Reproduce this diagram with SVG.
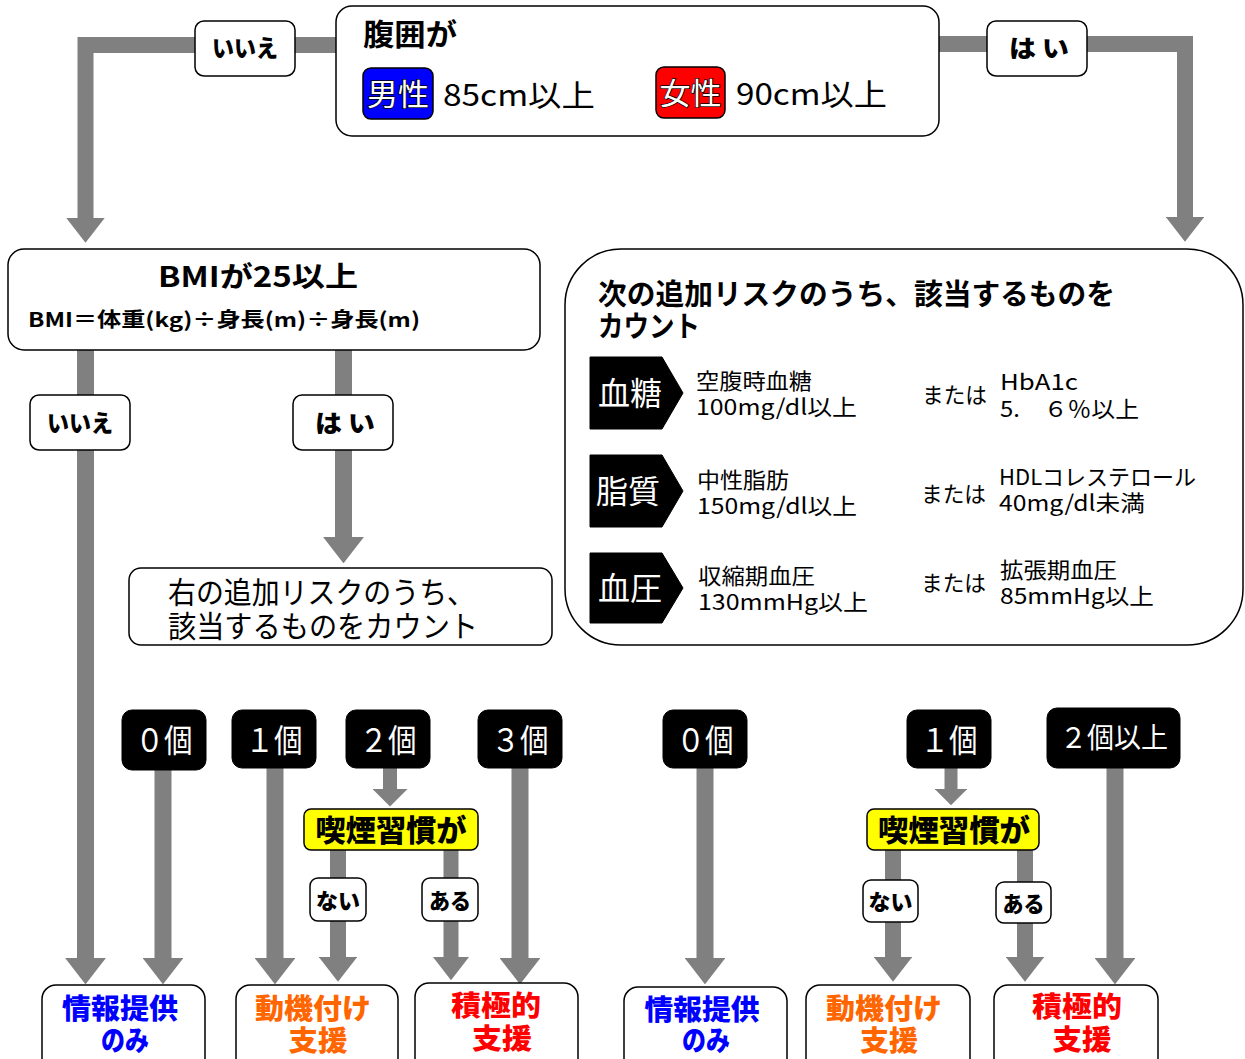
<svg xmlns="http://www.w3.org/2000/svg" width="1245" height="1059" viewBox="0 0 1245 1059">
<style>
text{font-family:"Noto Sans CJK JP","Noto Sans",sans-serif;fill:#000}
.box{fill:#fff;stroke:#000;stroke-width:1.5}
.blk{fill:#000;stroke:#000;stroke-width:1}
.yel{fill:#FFFF00;stroke:#000;stroke-width:1.5}
.con{fill:none;stroke:#808080;stroke-linejoin:miter}
.b{font-weight:bold}
.h{font-weight:900}
.w{fill:#fff}
.ol{fill:#fff;stroke:#000;stroke-width:1.5;paint-order:stroke}
.m{text-anchor:middle}
.blue{fill:#0000FF}
.org{fill:#FF6600}
.red{fill:#FF0000}
</style>
<defs>
<marker id="ah" viewBox="0 0 10 10" refX="0" refY="5" markerUnits="strokeWidth" markerWidth="1.55" markerHeight="2.4" orient="auto" preserveAspectRatio="none">
<path d="M0,0 L10,5 L0,10 Z" fill="#808080"/>
</marker>
<marker id="ahs" viewBox="0 0 10 10" refX="0" refY="5" markerUnits="strokeWidth" markerWidth="1.25" markerHeight="2.5" orient="auto" preserveAspectRatio="none">
<path d="M0,0 L10,5 L0,10 Z" fill="#808080"/>
</marker>
</defs>
<rect width="1245" height="1059" fill="#fff"/>

<g id="connectors">
<path class="con" stroke-width="16" d="M336,45 H85.5 V218" marker-end="url(#ah)"/>
<path class="con" stroke-width="16" d="M939,44 H1185 V217" marker-end="url(#ah)"/>
<path class="con" stroke-width="17" d="M85.5,350 V958" marker-end="url(#ah)"/>
<path class="con" stroke-width="17" d="M343.5,350 V537" marker-end="url(#ah)"/>
<path class="con" stroke-width="17" d="M163,768 V958" marker-end="url(#ah)"/>
<path class="con" stroke-width="17" d="M275,768 V958" marker-end="url(#ah)"/>
<path class="con" stroke-width="14" d="M390,768 V789" marker-end="url(#ahs)"/>
<path class="con" stroke-width="16" d="M338,850 V957" marker-end="url(#ah)"/>
<path class="con" stroke-width="15" d="M451,850 V957" marker-end="url(#ah)"/>
<path class="con" stroke-width="17" d="M520,768 V958" marker-end="url(#ah)"/>
<path class="con" stroke-width="17" d="M705,768 V958" marker-end="url(#ah)"/>
<path class="con" stroke-width="13" d="M951,768 V789" marker-end="url(#ahs)"/>
<path class="con" stroke-width="16" d="M893,850 V957" marker-end="url(#ah)"/>
<path class="con" stroke-width="16" d="M1025,850 V957" marker-end="url(#ah)"/>
<path class="con" stroke-width="17" d="M1115,768 V958" marker-end="url(#ah)"/>
</g>

<g id="waist">
<rect class="box" x="336" y="6" width="603" height="130" rx="16"/>
<text class="b" x="363" y="45" font-size="30" textLength="94" lengthAdjust="spacingAndGlyphs">腹囲が</text>
<rect x="363" y="68" width="70" height="51" rx="8" fill="#0000FF" stroke="#000" stroke-width="1.5"/>
<text class="ol m" x="398" y="105" font-size="30" textLength="62" lengthAdjust="spacingAndGlyphs">男性</text>
<text x="443" y="106" font-size="30" textLength="152" lengthAdjust="spacingAndGlyphs">85cm以上</text>
<rect x="656" y="67" width="69" height="51" rx="8" fill="#FF0000" stroke="#000" stroke-width="1.5"/>
<text class="ol m" x="690.5" y="104" font-size="30" textLength="62" lengthAdjust="spacingAndGlyphs">女性</text>
<text x="736" y="105" font-size="30" textLength="151" lengthAdjust="spacingAndGlyphs">90cm以上</text>
</g>

<g id="label-no-1">
<rect class="box" x="195" y="21" width="100" height="55" rx="9"/>
<text class="h m" x="245" y="57" font-size="24" textLength="66" lengthAdjust="spacingAndGlyphs">いいえ</text>
</g>
<g id="label-yes-1">
<rect class="box" x="987" y="21" width="100" height="55" rx="9"/>
<text class="h m" x="1039" y="57" font-size="24" textLength="60" lengthAdjust="spacingAndGlyphs">は い</text>
</g>

<g id="bmi">
<rect class="box" x="8" y="249" width="532" height="101" rx="16"/>
<text class="b" x="158" y="287" font-size="28" textLength="200" lengthAdjust="spacingAndGlyphs">BMIが25以上</text>
<text class="b" x="28" y="327" font-size="20" textLength="392" lengthAdjust="spacingAndGlyphs">BMI＝体重(kg)÷身長(m)÷身長(m)</text>
</g>

<g id="label-no-2">
<rect class="box" x="30" y="395" width="100" height="55" rx="9"/>
<text class="h m" x="80" y="432" font-size="24" textLength="66" lengthAdjust="spacingAndGlyphs">いいえ</text>
</g>
<g id="label-yes-2">
<rect class="box" x="293" y="395" width="100" height="55" rx="9"/>
<text class="h m" x="345" y="432" font-size="24" textLength="60" lengthAdjust="spacingAndGlyphs">は い</text>
</g>

<g id="count-left">
<rect class="box" x="129" y="568" width="423" height="77" rx="12"/>
<text font-size="30"><tspan x="168" y="603" textLength="307" lengthAdjust="spacingAndGlyphs">右の追加リスクのうち、</tspan><tspan x="168" y="637" textLength="310" lengthAdjust="spacingAndGlyphs">該当するものをカウント</tspan></text>
</g>

<g id="risks">
<rect class="box" x="565" y="249" width="678" height="396" rx="56"/>
<text class="b" font-size="29"><tspan x="598" y="305" textLength="517" lengthAdjust="spacingAndGlyphs">次の追加リスクのうち、該当するものを</tspan><tspan x="598" y="337" textLength="102" lengthAdjust="spacingAndGlyphs">カウント</tspan></text>

<polygon class="blk" points="590,357 662,357 683,393 662,429 590,429"/>
<text class="w m" x="630" y="405" font-size="32" textLength="64" lengthAdjust="spacingAndGlyphs">血糖</text>
<text font-size="22"><tspan x="696" y="389" textLength="116" lengthAdjust="spacingAndGlyphs">空腹時血糖</tspan><tspan x="696" y="415" textLength="161" lengthAdjust="spacingAndGlyphs">100mg/dl以上</tspan></text>
<text x="922" y="403" font-size="22" textLength="65" lengthAdjust="spacingAndGlyphs">または</text>
<text font-size="22"><tspan x="1000" y="390" textLength="78" lengthAdjust="spacingAndGlyphs">HbA1c</tspan><tspan x="1000" y="417" textLength="139" lengthAdjust="spacingAndGlyphs">5.　６％以上</tspan></text>

<polygon class="blk" points="590,455 662,455 683,491 662,527 590,527"/>
<text class="w m" x="628" y="503" font-size="32" textLength="64" lengthAdjust="spacingAndGlyphs">脂質</text>
<text font-size="22"><tspan x="697" y="488" textLength="92" lengthAdjust="spacingAndGlyphs">中性脂肪</tspan><tspan x="697" y="514" textLength="160" lengthAdjust="spacingAndGlyphs">150mg/dl以上</tspan></text>
<text x="921" y="502" font-size="22" textLength="65" lengthAdjust="spacingAndGlyphs">または</text>
<text font-size="22"><tspan x="999" y="485" textLength="197" lengthAdjust="spacingAndGlyphs">HDLコレステロール</tspan><tspan x="999" y="511" textLength="146" lengthAdjust="spacingAndGlyphs">40mg/dl未満</tspan></text>

<polygon class="blk" points="590,553 662,553 683,588 662,623 590,623"/>
<text class="w m" x="630" y="600" font-size="32" textLength="64" lengthAdjust="spacingAndGlyphs">血圧</text>
<text font-size="22"><tspan x="698" y="584" textLength="117" lengthAdjust="spacingAndGlyphs">収縮期血圧</tspan><tspan x="698" y="610" textLength="170" lengthAdjust="spacingAndGlyphs">130mmHg以上</tspan></text>
<text x="921" y="591" font-size="22" textLength="65" lengthAdjust="spacingAndGlyphs">または</text>
<text font-size="22"><tspan x="1000" y="578" textLength="117" lengthAdjust="spacingAndGlyphs">拡張期血圧</tspan><tspan x="1000" y="604" textLength="154" lengthAdjust="spacingAndGlyphs">85mmHg以上</tspan></text>
</g>

<g id="cnt0-left"><rect class="blk" x="122" y="710" width="84" height="60" rx="10"/><text class="w m" x="164" y="752" font-size="32" textLength="57" lengthAdjust="spacingAndGlyphs">０個</text></g>
<g id="cnt1-left"><rect class="blk" x="232" y="710" width="84" height="58" rx="10"/><text class="w m" x="274" y="752" font-size="32" textLength="57" lengthAdjust="spacingAndGlyphs">１個</text></g>
<g id="cnt2-left"><rect class="blk" x="346" y="710" width="84" height="58" rx="10"/><text class="w m" x="388" y="752" font-size="32" textLength="57" lengthAdjust="spacingAndGlyphs">２個</text></g>
<g id="cnt3-left"><rect class="blk" x="478" y="710" width="84" height="58" rx="10"/><text class="w m" x="520" y="752" font-size="32" textLength="57" lengthAdjust="spacingAndGlyphs">３個</text></g>
<g id="cnt0-right"><rect class="blk" x="663" y="710" width="84" height="58" rx="10"/><text class="w m" x="705" y="752" font-size="32" textLength="57" lengthAdjust="spacingAndGlyphs">０個</text></g>
<g id="cnt1-right"><rect class="blk" x="907" y="710" width="84" height="58" rx="10"/><text class="w m" x="949" y="752" font-size="32" textLength="57" lengthAdjust="spacingAndGlyphs">１個</text></g>
<g id="cnt2-right"><rect class="blk" x="1047" y="708" width="133" height="60" rx="10"/><text class="w" x="1060" y="748" font-size="28" textLength="108" lengthAdjust="spacingAndGlyphs">２個以上</text></g>

<g id="smoke-left">
<rect class="yel" x="304" y="809" width="174" height="41" rx="7"/>
<text class="h m" x="391" y="841" font-size="30" textLength="151" lengthAdjust="spacingAndGlyphs">喫煙習慣が</text>
</g>
<g id="smoke-right">
<rect class="yel" x="867" y="809" width="172" height="41" rx="7"/>
<text class="h m" x="954" y="841" font-size="30" textLength="152" lengthAdjust="spacingAndGlyphs">喫煙習慣が</text>
</g>

<g id="no-left"><rect class="box" x="310" y="878" width="56" height="43" rx="8"/><text class="h m" x="338" y="909" font-size="22" textLength="44" lengthAdjust="spacingAndGlyphs">ない</text></g>
<g id="yes-left"><rect class="box" x="422" y="878" width="56" height="43" rx="8"/><text class="h m" x="450" y="909" font-size="22" textLength="42" lengthAdjust="spacingAndGlyphs">ある</text></g>
<g id="no-right"><rect class="box" x="863" y="880" width="55" height="42" rx="8"/><text class="h m" x="890.5" y="910" font-size="22" textLength="44" lengthAdjust="spacingAndGlyphs">ない</text></g>
<g id="yes-right"><rect class="box" x="996" y="882" width="55" height="41" rx="8"/><text class="h m" x="1023.5" y="912" font-size="22" textLength="42" lengthAdjust="spacingAndGlyphs">ある</text></g>

<g id="info-left">
<rect class="box" x="42" y="985" width="163" height="90" rx="14"/>
<text class="h m blue" font-size="28"><tspan x="120" y="1019" textLength="116" lengthAdjust="spacingAndGlyphs">情報提供</tspan><tspan x="125" y="1051" textLength="48" lengthAdjust="spacingAndGlyphs">のみ</tspan></text>
</g>
<g id="motive-left">
<rect class="box" x="236" y="985" width="162" height="90" rx="14"/>
<text class="h m org" font-size="28"><tspan x="313" y="1019" textLength="116" lengthAdjust="spacingAndGlyphs">動機付け</tspan><tspan x="318" y="1051" textLength="59" lengthAdjust="spacingAndGlyphs">支援</tspan></text>
</g>
<g id="active-left">
<rect class="box" x="415" y="983" width="163" height="92" rx="14"/>
<text class="h m red" font-size="28"><tspan x="496" y="1016" textLength="90" lengthAdjust="spacingAndGlyphs">積極的</tspan><tspan x="502" y="1049" textLength="60" lengthAdjust="spacingAndGlyphs">支援</tspan></text>
</g>
<g id="info-right">
<rect class="box" x="624" y="987" width="163" height="90" rx="14"/>
<text class="h m blue" font-size="28"><tspan x="702" y="1020" textLength="115" lengthAdjust="spacingAndGlyphs">情報提供</tspan><tspan x="706" y="1051" textLength="48" lengthAdjust="spacingAndGlyphs">のみ</tspan></text>
</g>
<g id="motive-right">
<rect class="box" x="806" y="985" width="164" height="90" rx="14"/>
<text class="h m org" font-size="28"><tspan x="884" y="1019" textLength="116" lengthAdjust="spacingAndGlyphs">動機付け</tspan><tspan x="889" y="1051" textLength="58" lengthAdjust="spacingAndGlyphs">支援</tspan></text>
</g>
<g id="active-right">
<rect class="box" x="994" y="985" width="164" height="90" rx="14"/>
<text class="h m red" font-size="28"><tspan x="1077" y="1017" textLength="90" lengthAdjust="spacingAndGlyphs">積極的</tspan><tspan x="1082" y="1050" textLength="59" lengthAdjust="spacingAndGlyphs">支援</tspan></text>
</g>
</svg>
